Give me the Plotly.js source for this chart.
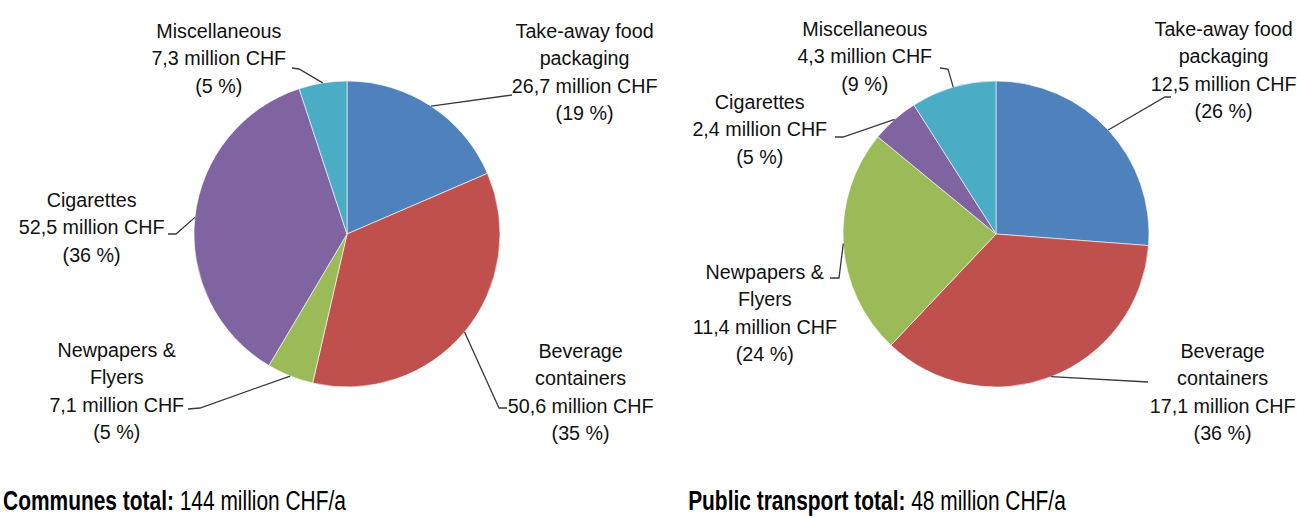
<!DOCTYPE html>
<html>
<head>
<meta charset="utf-8">
<script src="https://cdn.plot.ly/plotly-3.0.1.min.js"></script>
<style>
  html, body { margin: 0; padding: 0; background: #fff; }
  #chart { width: 1297px; height: 518px; }
  /* imitar una fuente angosta (tipo Arial Narrow) */
  #chart .annotation-text { transform-box: fill-box; }
  #chart .narrow { transform-origin: 50% 50%; transform: scaleX(0.94); }
  #chart .narrow-left { transform-origin: 0% 50%; transform: scaleX(0.775); }
</style>
</head>
<body>
<div id="chart"></div>
<script>
// Datos de las dos tortas
const categories = ['Take-away food<br>packaging', 'Beverage<br>containers', 'Newpapers &<br>Flyers', 'Cigarettes', 'Miscellaneous'];
const communesValues = [26.7, 50.6, 7.1, 52.5, 7.3];
const transportValues = [12.5, 17.1, 11.4, 2.4, 4.3];
const sliceColors = ['#4F81BD', '#C0504D', '#9BBB59', '#8064A2', '#4BACC6'];
const totalNames = ['Communes total:', 'Public transport total:'];
const totalValues = ['144 million CHF/a', '48 million CHF/a'];

const W = 1297, H = 518;
const FONT = 'Liberation Sans, Arial, sans-serif';

// pixel -> paper
function px(x) { return x / W; }
function py(y) { return 1 - y / H; }

// posicion de cada torta, etiquetas y lineas guia (en pixeles)
const pies = [
    {
        values: communesValues, cx: 347, cy: 234, r: 153,
        labels: [[584, 72], [580, 391], [117, 390], [92, 227], [219, 58]],
        leaders: [[[512, 95]], [[499, 408], [507, 408]], [[200, 408], [188, 409]], [[176, 234], [168, 234]], [[299, 69], [292, 68]]]
    },
    {
        values: transportValues, cx: 996, cy: 234, r: 153,
        labels: [[1223, 70], [1222, 391], [765, 312], [760, 129], [865, 56]],
        leaders: [[[1165, 97], [1171, 97]], [[1148, 382]], [[839, 278], [830, 278]], [[843, 137], [835, 137]], [[948, 69], [940, 68]]]
    }
];

const data = [];
const annotations = [];
const shapes = [];

pies.forEach(function(p, k) {
    data.push({
        type: 'pie',
        values: p.values,
        labels: categories,
        sort: false,
        direction: 'clockwise',
        rotation: 0,
        textinfo: 'none',
        hoverinfo: 'skip',
        marker: { colors: sliceColors, line: { color: '#ffffff', width: 0.6 } },
        domain: { x: [px(p.cx - p.r), px(p.cx + p.r)], y: [py(p.cy + p.r), py(p.cy - p.r)] }
    });

    const total = p.values.reduce(function(a, b) { return a + b; }, 0);
    let cum = 0;
    p.values.forEach(function(v, i) {
        const ang = 2 * Math.PI * (cum + v / 2) / total;
        cum += v;
        const ex = p.cx + p.r * Math.sin(ang);
        const ey = p.cy - p.r * Math.cos(ang);

        let path = 'M ' + px(ex) + ',' + py(ey);
        p.leaders[i].forEach(function(pt) {
            path += ' L ' + px(pt[0]) + ',' + py(pt[1]);
        });
        shapes.push({
            type: 'path', xref: 'paper', yref: 'paper', path: path,
            line: { color: '#3a3a3a', width: 1.3 }
        });

        const pct = Math.round(100 * v / total);
        annotations.push({
            xref: 'paper', yref: 'paper',
            x: px(p.labels[i][0]), y: py(p.labels[i][1]),
            xanchor: 'center', yanchor: 'middle',
            showarrow: false, align: 'center',
            text: categories[i] + '<br>' + v.toFixed(1).replace('.', ',') + ' million CHF<br>(' + pct + ' %)',
            font: { family: FONT, size: 21, color: '#111111' }
        });
    });
});

// totales abajo
[1, 686].forEach(function(x0, k) {
    annotations.push({
        xref: 'paper', yref: 'paper',
        x: px(x0), y: 0,
        xanchor: 'left', yanchor: 'bottom',
        showarrow: false,
        text: '<b>' + totalNames[k] + '</b> ' + totalValues[k],
        font: { family: FONT, size: 27, color: '#000000' }
    });
});

const layout = {
    width: W, height: H,
    margin: { l: 0, r: 0, t: 0, b: 0 },
    paper_bgcolor: '#ffffff',
    showlegend: false,
    annotations: annotations,
    shapes: shapes
};

Plotly.newPlot('chart', data, layout, { staticPlot: true }).then(function(gd) {
    const texts = gd.querySelectorAll('.annotation-text');
    const nLabels = annotations.length - totalNames.length;
    texts.forEach(function(t, i) {
        t.classList.add(i < nLabels ? 'narrow' : 'narrow-left');
    });
});
</script>
</body>
</html>
